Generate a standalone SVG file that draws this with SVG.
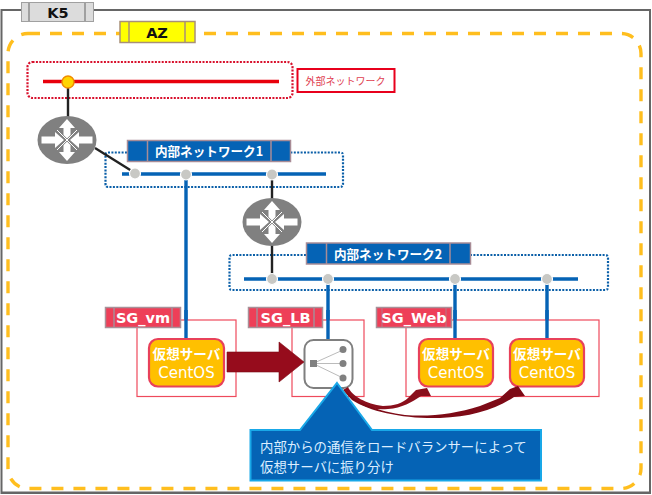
<svg xmlns="http://www.w3.org/2000/svg" width="652" height="495" viewBox="0 0 652 495">
<style>
text{font-family:"DejaVu Sans","Noto Sans CJK JP",sans-serif;text-anchor:middle}
.jp{font-family:"Noto Sans CJK JP",sans-serif}
.net{fill:#0563b5;stroke:#a88c96;stroke-width:1.5}
.sgl{fill:#ee3f58;stroke:#a89098;stroke-width:1.5}
.sgb{fill:#fff;stroke:#ee4a5c;stroke-width:1.2}
.dot{fill:none;stroke:#0a5fa8;stroke-width:2.2;stroke-dasharray:2 1.4}
.wire{stroke:#0563b5;stroke-width:3.4;fill:none}
.blk{stroke:#222;stroke-width:2.4;fill:none}
.port{fill:#c8c8c4;stroke:#fff;stroke-width:1.2}
.vm{fill:#ffc000;stroke:#e8415a;stroke-width:2.2}
.vt{fill:#fff;font-size:15px}
.vj{font-weight:700;font-size:13.6px;font-family:"Noto Sans CJK JP",sans-serif}
.sgt{fill:#fff;font-weight:700;font-size:14.5px}
.sep{stroke:#a88c96;stroke-width:1.5}
.nt{fill:#fff;font-weight:700;font-size:12.6px}
.ct{fill:#dceeff;font-size:13.4px;text-anchor:start}
</style>
<defs>
<g id="router">
<ellipse cx="0" cy="0" rx="29.5" ry="24" fill="#808080"/>
<path d="M-10-10L10 10M10-10L-10 10" stroke="#fff" stroke-width="1"/>
<path fill="#fff" d="M0-21L8-12H3.500V-5L0-1.500L-3.500-5V-12H-8ZM0 21L8 12H3.500V5L0 1.500L-3.500 5V12H-8ZM-25.500-3.500H-12V-8L-3 0L-12 8V3.500H-25.500ZM25.500-3.500H12V-8L3 0L12 8V3.500H25.500Z"/>
</g>
</defs>
<rect width="652" height="495" fill="#fff"/>
<g id="frame">
<path d="M1.500 493V10H650V493Z" fill="none" stroke="#666" stroke-width="2"/>
<path d="M1 492.500H651" stroke="#666" stroke-width="2"/>
</g>
<g id="az-boundary">
<rect x="8" y="33.500" width="633" height="455" rx="20" fill="none" stroke="#ffbe1e" stroke-width="3.400" stroke-dasharray="12 10"/>
</g>
<g id="k5">
<rect x="21.500" y="2.500" width="72" height="19" fill="#dcdcdc" stroke="#a0a0a0"/>
<path d="M29 2V21M85 2V21" stroke="#a0a0a0" stroke-width="2"/>
<text x="58" y="18" font-size="14.500" font-weight="700" fill="#111">K5</text>
</g>
<g id="az">
<rect x="120" y="21.500" width="75" height="21" fill="#ffff00" stroke="#a89078" stroke-width="1.500"/>
<path d="M129 21V43M185 21V43" stroke="#a89078" stroke-width="1.500"/>
<text x="157" y="38" font-size="14.500" font-weight="700" fill="#111">AZ</text>
</g>
<g id="external-network">
<rect x="27.500" y="62" width="265" height="36" rx="5" fill="none" stroke="#d8102c" stroke-width="2.200" stroke-dasharray="2 1.400"/>
<rect x="297.500" y="69" width="97" height="23" fill="#fff" stroke="#e8001c" stroke-width="2"/>
<text class="jp" x="345.500" y="85" font-size="10" fill="#e04050">外部ネットワーク</text>
</g>
<g id="network1-zone"><path class="dot" d="M127 152.500H108Q105.500 152.500 105.500 155V184Q105.500 187 108 187H340Q343 187 343 184V155Q343 152.500 340 152.500H291"/></g>
<g id="network2-zone"><path class="dot" d="M306 255H232Q229.500 255 229.500 258V287Q229.500 290 232 290H605Q608 290 608 287V258Q608 255 605 255H470"/></g>
<g id="connectors">
<path class="blk" d="M68 88V118M95 148L135 173M272 176V200M272 244V279"/>
<path d="M43 81.500H279" stroke="#e8000c" stroke-width="3.600"/>
<path class="wire" d="M122 174H326M244 279H578M186 174V339M328 279V340M455 279V339M547 279V339"/>
</g>
<g id="gateway"><circle cx="68" cy="82" r="6" fill="#ffd400" stroke="#f08c00" stroke-width="1.500"/></g>
<g id="ports">
<circle class="port" cx="135" cy="173.500" r="5.500"/><circle class="port" cx="186" cy="174.500" r="5.500"/><circle class="port" cx="272" cy="174.500" r="5.500"/>
<circle class="port" cx="272" cy="279" r="5.500"/><circle class="port" cx="328" cy="279" r="5.500"/><circle class="port" cx="455" cy="279" r="5.500"/><circle class="port" cx="547" cy="279" r="5.500"/>
</g>
<use id="router1" href="#router" x="67" y="140"/>
<use id="router2" href="#router" x="272" y="222"/>
<g id="net1-label">
<rect class="net" x="127.500" y="140.500" width="163" height="21"/>
<path class="sep" d="M147.500 140V162M271 140V162"/>
<text class="jp nt" x="209" y="155.500">内部ネットワーク1</text>
</g>
<g id="net2-label">
<rect class="net" x="306.500" y="243" width="164" height="21"/>
<path class="sep" d="M326.500 243V264M450 243V264"/>
<text class="jp nt" x="388" y="258.500">内部ネットワーク2</text>
</g>
<g id="sg-vm">
<rect class="sgb" x="137" y="320" width="99" height="76.500"/>
<rect class="sgl" x="105.500" y="307.500" width="75" height="20"/>
<path class="sep" d="M114 307V327M172 307V327"/>
<text class="sgt" x="143" y="323">SG_vm</text>
</g>
<g id="sg-lb">
<rect class="sgb" x="292" y="320" width="72" height="76.500"/>
<rect class="sgl" x="248.500" y="307.500" width="74" height="20"/>
<path class="sep" d="M257 307V327M314 307V327"/>
<text class="sgt" x="285.500" y="323">SG_LB</text>
</g>
<g id="sg-web">
<rect class="sgb" x="406" y="320" width="193" height="76.500"/>
<rect class="sgl" x="376.500" y="307.500" width="75" height="20"/>
<path class="sep" d="M382 307V327M446 307V327" stroke-opacity=".5"/>
<text class="sgt" x="414" y="323">SG_Web</text>
</g>
<path class="wire" d="M186 310V339M328 310V340M455 310V339M547 310V339"/>
<g id="vm1">
<rect class="vm" x="149" y="339" width="75" height="47.500" rx="9"/>
<text class="vt vj" x="186.500" y="359">仮想サーバ</text>
<text class="vt" x="186.500" y="378">CentOS</text>
</g>
<g id="vm2">
<rect class="vm" x="419" y="339" width="74" height="47.500" rx="9"/>
<text class="vt vj" x="456" y="359">仮想サーバ</text>
<text class="vt" x="456" y="378">CentOS</text>
</g>
<g id="vm3">
<rect class="vm" x="510" y="339" width="74" height="47.500" rx="9"/>
<text class="vt vj" x="547" y="359">仮想サーバ</text>
<text class="vt" x="547" y="378">CentOS</text>
</g>
<g id="lb">
<rect x="304.500" y="340" width="48" height="48" rx="9" fill="#fff" stroke="#7f7f7f" stroke-width="2"/>
<path d="M313 363.500L343 350M313 363.500H343M313 363.500L343 378" stroke="#bbb" stroke-width="1"/>
<rect x="310" y="360" width="7" height="7" fill="#808080"/>
<circle cx="343" cy="349.500" r="3.500" fill="#808080"/><circle cx="343" cy="363.500" r="3.500" fill="#808080"/><circle cx="343" cy="378" r="3.500" fill="#808080"/>
</g>
<g id="flow-arrows">
<path d="M227 352H279V342L304 362L279 382V372H227Z" fill="#960c1c" stroke="#7a0a14" stroke-width=".6"/>
<path d="M348 387C352 396 366 404 383 406C394 406 403 403 408 398L416 390L427 388L431 396L421 396C412 402 402 408 388 409C370 411 355 404 343 390Z" fill="#8a0f1c"/>
<path d="M343 388C352 402 380 412 405 415C430 417 455 414 480 406L500 398L510 389L518 386L525 396L514 397C495 410 470 417 440 418C405 419 370 412 352 400C348 396 345 392 343 388Z" fill="#7d0a16"/>
</g>
<g id="callout">
<path d="M337 383L372 430H541V480.500H250.500V430H300Z" fill="#0563b5" stroke="#19a8e8" stroke-width="2"/>
<text class="jp ct" x="260" y="452">内部からの通信をロードバランサーによって</text>
<text class="jp ct" x="260" y="472">仮想サーバに振り分け</text>
</g>
</svg>
